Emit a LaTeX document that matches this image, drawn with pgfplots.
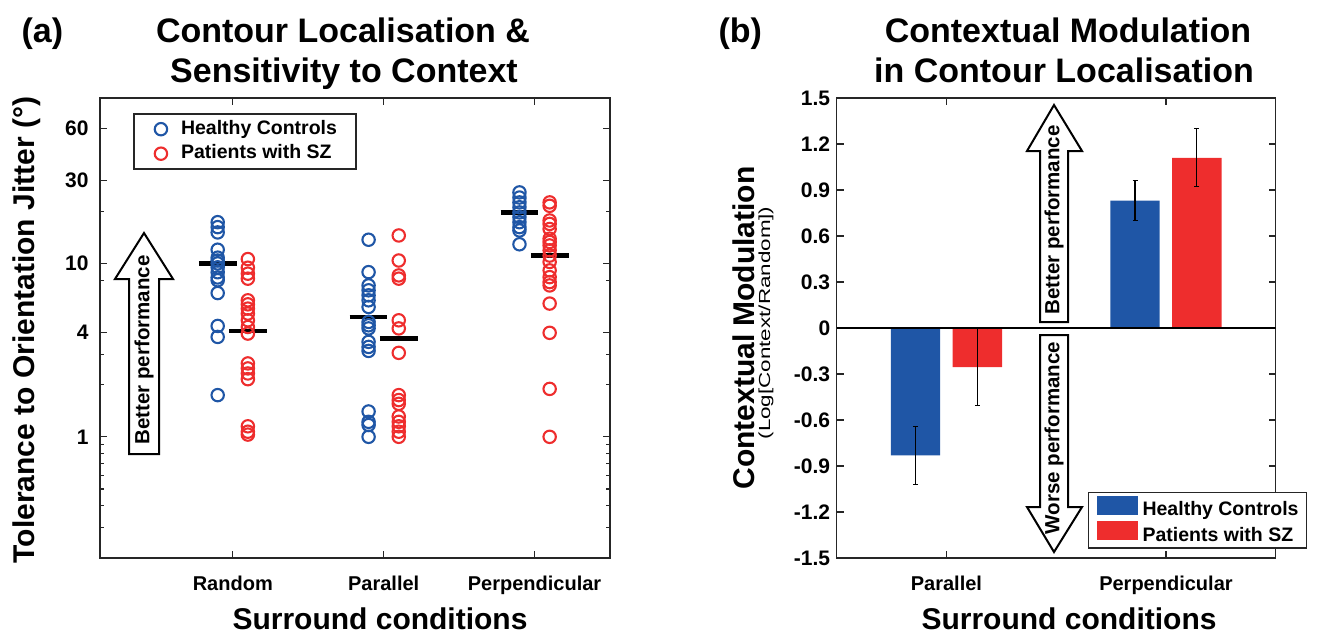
\documentclass[border=0pt]{standalone}
\usepackage{fontspec}
\setmainfont{Liberation Sans}
\usepackage{pgfplots}
\pgfplotsset{compat=1.18}

\definecolor{hcblue}{RGB}{31,86,166}
\definecolor{szred}{RGB}{238,45,45}
\definecolor{axgray}{RGB}{38,38,38}

\newcommand\titlefont{\fontsize{34}{40}\selectfont\bfseries}
\newcommand\labfont{\fontsize{30}{36}\selectfont\bfseries}
\newcommand\tickfont{\fontsize{20}{24}\selectfont\bfseries}
\newcommand\ytickfont{\fontsize{21}{25}\selectfont\bfseries}
\newcommand\legfont{\fontsize{19.5}{23}\selectfont\bfseries}
\newcommand\arrfont{\fontsize{20.5}{24}\selectfont\bfseries}

\pgfplotsset{
  panel/.style={
    scale only axis, height=460pt,
    tick align=inside,
    major tick length=7pt, minor tick length=4pt,
    axis line style={line width=1.3pt, axgray},
    tick style={line width=1.1pt, axgray},
    ticklabel style={font=\tickfont, text=black},
    yticklabel style={font=\ytickfont},
    /pgf/number format/assume math mode=true,
    xticklabel style={yshift=-14pt},
  },
  circ/.style={only marks, mark=o, mark size=6.2pt, line width=2.1pt,
    mark options={line width=2.1pt}},
  med/.style={black, line width=4.5pt, forget plot},
  sebar/.style={ybar, bar width=0.225, bar shift=0pt, draw=none,
    error bars/y dir=both, error bars/y explicit,
    error bars/error bar style={line width=1.1pt, black},
    error bars/error mark options={rotate=90, mark size=2.5pt, line width=1.1pt, black}},
}

\begin{document}
\begin{tikzpicture}
\path[use as bounding box] (0pt,0pt) rectangle (1324pt,-634pt);

% ---------- (a) scatter on log axis
\begin{axis}[panel,
  at={(100pt,-558pt)}, anchor=south west, width=510pt,
  xmin=0.12, xmax=3.5,
  ymode=log, ymin=0.2, ymax=90,
  xtick={1,2,3}, xticklabels={Random,Parallel,Perpendicular},
  ytick={1,4,10,30,60}, yticklabels={1,4,10,30,60},
  minor ytick={0.3,0.4,0.5,0.6,0.7,0.8,0.9,2,3,8,20},
  yticklabel style={xshift=-8pt},
  legend cell align=left,
  legend style={at={(0.065,0.967)}, anchor=north west, draw=axgray,
    line width=1.5pt, font=\legfont, inner xsep=19pt, inner ysep=6pt,
    row sep=6pt, column sep=12pt,
    nodes={inner sep=0pt, text height=14.5pt, text depth=4pt}},
  legend image code/.code={\path (0pt,0pt) (14pt,0pt); \draw[#1] plot coordinates {(7pt,0pt)};},
]
\addplot[circ, hcblue] table {
x y
0.9 17.3
0.9 16.2
0.9 15.1
0.9 12.0
0.9 10.8
0.9 10.4
0.9 10.0
0.9 9.5
0.9 8.9
0.9 8.3
0.9 8.0
0.9 6.75
0.9 4.36
0.9 3.77
0.9 1.74
1.9 13.7
1.9 8.91
1.9 7.47
1.9 7.0
1.9 6.55
1.9 6.13
1.9 5.61
1.9 4.60
1.9 4.40
1.9 4.22
1.9 3.53
1.9 3.30
1.9 3.13
1.9 1.40
1.9 1.22
1.9 1.17
1.9 1.0
2.9 25.7
2.9 24.0
2.9 22.5
2.9 21.1
2.9 19.7
2.9 18.5
2.9 17.3
2.9 16.2
2.9 15.5
2.9 12.9
};
\addlegendentry{Healthy Controls}
\addplot[circ, szred] table {
x y
1.1 10.6
1.1 9.45
1.1 8.73
1.1 8.17
1.1 6.13
1.1 5.81
1.1 5.49
1.1 5.14
1.1 4.70
1.1 4.30
1.1 3.94
1.1 2.65
1.1 2.48
1.1 2.32
1.1 2.15
1.1 1.15
1.1 1.07
1.1 1.03
2.1 14.5
2.1 10.4
2.1 8.53
2.1 8.17
2.1 4.70
2.1 4.22
2.1 3.05
2.1 1.74
2.1 1.63
2.1 1.55
2.1 1.31
2.1 1.22
2.1 1.15
2.1 1.07
2.1 1.0
3.1 22.5
3.1 21.5
3.1 17.7
3.1 16.9
3.1 15.8
3.1 13.9
3.1 13.3
3.1 12.7
3.1 11.9
3.1 11.1
3.1 10.2
3.1 9.12
3.1 8.34
3.1 7.81
3.1 7.47
3.1 5.87
3.1 3.98
3.1 1.89
3.1 1.0
};
\addlegendentry{Patients with SZ}
% group medians
\addplot[med] coordinates {(0.775,10.0) (1.025,10.0)};
\addplot[med] coordinates {(0.975,4.08) (1.225,4.08)};
\addplot[med] coordinates {(1.775,4.91) (2.025,4.91)};
\addplot[med] coordinates {(1.975,3.69) (2.225,3.69)};
\addplot[med] coordinates {(2.775,19.7) (3.025,19.7)};
\addplot[med] coordinates {(2.975,11.1) (3.225,11.1)};
\end{axis}

% ---------- (b) bars (groups at 1 and 2, bars offset by 0.141)
\begin{axis}[panel,
  at={(836.7pt,-558pt)}, anchor=south west, width=439pt,
  xmin=0.5, xmax=2.5, ymin=-1.5, ymax=1.5,
  xtick={1,2}, xticklabels={Parallel,Perpendicular},
  ytick={-1.5,-1.2,-0.9,-0.6,-0.3,0,0.3,0.6,0.9,1.2,1.5},
  yticklabels={-1.5,-1.2,-0.9,-0.6,-0.3,0,0.3,0.6,0.9,1.2,1.5},
  yticklabel style={xshift=-3pt},
  legend cell align=left,
  legend style={at={(0.572,0.0196)}, anchor=south west, draw=axgray,
    line width=1.5pt, font=\legfont, inner xsep=8pt, inner ysep=3pt,
    row sep=2pt, column sep=5pt,
    nodes={inner sep=0pt, text height=14.5pt, text depth=4pt}},
]
\addplot[sebar, fill=hcblue,
  legend image code/.code={\fill[hcblue] (0pt,-4.5pt) rectangle (41pt,14.5pt);}]
  coordinates {(0.859,-0.83) +- (0,0.19) (1.859,0.83) +- (0,0.13)};
\addlegendentry{Healthy Controls}
\addplot[sebar, fill=szred,
  legend image code/.code={\fill[szred] (0pt,-4.5pt) rectangle (41pt,14.5pt);}]
  coordinates {(1.141,-0.255) +- (0,0.25) (2.141,1.11) +- (0,0.19)};
\addlegendentry{Patients with SZ}
\addplot[black, line width=1.3pt, forget plot] coordinates {(0.5,0) (2.5,0)};
\end{axis}

% ---------- titles and labels
\node[anchor=base west, font=\titlefont] at (18pt,-43pt) {(a)};
\node[anchor=base, font=\titlefont] at (343pt,-43pt) {Contour Localisation \&};
\node[anchor=base, font=\titlefont] at (344pt,-82pt) {Sensitivity to Context};
\node[anchor=base west, font=\titlefont] at (715pt,-43pt) {(b)};
\node[anchor=base, font=\titlefont] at (1068pt,-43pt) {Contextual Modulation};
\node[anchor=base, font=\titlefont] at (1064pt,-82pt) {in Contour Localisation};
\node[anchor=base, font=\labfont] at (380pt,-629pt) {Surround conditions};
\node[anchor=base, font=\labfont] at (1069pt,-629pt) {Surround conditions};
\node[anchor=base, rotate=90, font=\labfont] at (34.5pt,-330pt) {Tolerance to Orientation Jitter (°)};
\node[anchor=base, rotate=90, font=\labfont] at (754pt,-328pt) {Contextual Modulation};
\node[anchor=base, rotate=90, font=\fontsize{16}{19}\selectfont] at (770pt,-323pt) {\scalebox{1.4}[1]{(Log[Context/Random])}};

% ---------- performance arrows
\draw[black, line width=2pt, fill=white, line join=miter]
  (129pt,-454pt) -- (129pt,-279pt) -- (115pt,-279pt) -- (144pt,-233pt)
  -- (173pt,-279pt) -- (159pt,-279pt) -- (159pt,-454pt) -- cycle;
\node[rotate=90, font=\arrfont] at (144pt,-350pt) {Better performance};
\draw[black, line width=2pt, fill=white, line join=miter]
  (1040pt,-322pt) -- (1040pt,-151pt) -- (1027pt,-151pt) -- (1054pt,-105pt)
  -- (1082pt,-151pt) -- (1068pt,-151pt) -- (1068pt,-322pt) -- cycle;
\node[rotate=90, font=\arrfont] at (1054pt,-220pt) {Better performance};
\draw[black, line width=2pt, fill=white, line join=miter]
  (1040pt,-335pt) -- (1040pt,-507pt) -- (1027pt,-507pt) -- (1054pt,-552pt)
  -- (1082pt,-507pt) -- (1068pt,-507pt) -- (1068pt,-335pt) -- cycle;
\node[rotate=90, font=\arrfont] at (1054pt,-438pt) {Worse performance};
\end{tikzpicture}
\end{document}
